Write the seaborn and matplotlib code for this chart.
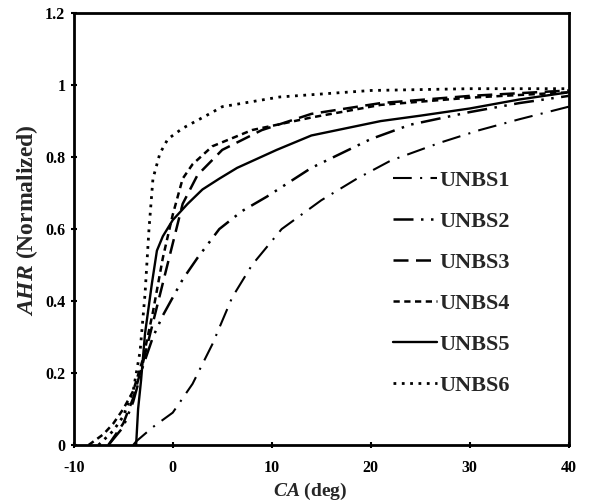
import matplotlib
matplotlib.use("Agg")
import matplotlib.pyplot as plt
import seaborn as sns
import pandas as pd

# values
ca1 = [-4, -3.7, -2, 0, 2, 4, 6, 8, 11, 15, 18.6, 22, 27, 31, 35, 40]
ahr1 = [0, 0.01, 0.05, 0.09, 0.17, 0.28, 0.41, 0.5, 0.6, 0.68, 0.74, 0.79, 0.84, 0.875, 0.905, 0.94]

ca2 = [-6.5, -5, -4, -3, -2, -1, 0, 1, 2.5, 4.7, 7, 9.5, 14, 20, 24, 30, 35, 40]
ahr2 = [0, 0.05, 0.12, 0.22, 0.3, 0.36, 0.41, 0.46, 0.52, 0.6, 0.65, 0.69, 0.77, 0.85, 0.89, 0.925, 0.95, 0.97]

ca3 = [-6.5, -5, -4, -3, -2, -1, 0, 1, 2.5, 5, 9, 14, 21, 30, 40]
ahr3 = [0, 0.06, 0.13, 0.23, 0.34, 0.45, 0.56, 0.67, 0.75, 0.82, 0.875, 0.92, 0.95, 0.97, 0.985]

ca4 = [-8.5, -7, -6, -5, -4, -3, -2, -1, 0, 1, 2, 4, 8, 14, 21, 30, 40]
ahr4 = [0, 0.03, 0.06, 0.1, 0.15, 0.24, 0.37, 0.52, 0.64, 0.74, 0.78, 0.83, 0.875, 0.91, 0.945, 0.965, 0.98]

ca5 = [-3.7, -3.5, -3.2, -2.8, -2.1, -1.6, -1, 0, 1.5, 3, 4.7, 6.5, 10.5, 14, 21, 25, 30, 35, 40]
ahr5 = [0, 0.1, 0.18, 0.31, 0.45, 0.54, 0.58, 0.625, 0.67, 0.71, 0.74, 0.77, 0.82, 0.86, 0.9, 0.915, 0.935, 0.96, 0.98]

ca6 = [-7.5, -6, -5, -4, -3.3, -2.8, -2.4, -2, -1.3, -0.5, 1, 3.7, 5, 10.8, 20, 30, 40]
ahr6 = [0, 0.04, 0.08, 0.15, 0.26, 0.42, 0.6, 0.74, 0.81, 0.85, 0.88, 0.92, 0.94, 0.967, 0.985, 0.99, 0.99]

names = ["UNBS1", "UNBS2", "UNBS3", "UNBS4", "UNBS5", "UNBS6"]
xs = [ca1, ca2, ca3, ca4, ca5, ca6]
ys = [ahr1, ahr2, ahr3, ahr4, ahr5, ahr6]

styles = {
    "UNBS1": dict(linestyle=(0, (9, 4, 1, 4)), lw=1.5),
    "UNBS2": dict(linestyle=(0, (8, 3, 1, 3, 1, 3)), lw=1.8),
    "UNBS3": dict(linestyle=(0, (6, 3)), lw=1.8),
    "UNBS4": dict(linestyle=(0, (2.5, 1.8)), lw=1.8),
    "UNBS5": dict(linestyle="-", lw=1.7),
    "UNBS6": dict(linestyle=(0, (1, 2)), lw=2.0),
}

sns.set_style("white")
plt.rcParams["font.family"] = ["Liberation Serif", "DejaVu Serif"]
plt.rcParams["font.weight"] = "bold"
plt.rcParams["axes.unicode_minus"] = False
plt.rcParams["mathtext.fontset"] = "custom"
plt.rcParams["mathtext.it"] = "Liberation Serif:italic:bold"
plt.rcParams["mathtext.rm"] = "Liberation Serif:bold"

fig = plt.figure(figsize=(5.9, 5.04), dpi=100)
ax = fig.add_axes([0.125, 0.117, 0.839, 0.857])

for n, x, y in zip(names, xs, ys):
    df = pd.DataFrame({"CA": x, "AHR": y})
    sns.lineplot(data=df, x="CA", y="AHR", ax=ax, color="black", label=n,
                 **styles[n])

ax.set_xlim(-10, 40)
ax.set_ylim(0, 1.2)
ax.set_xticks([-10, 0, 10, 20, 30, 40])
ax.set_yticks([0, 0.2, 0.4, 0.6, 0.8, 1.0, 1.2])
ax.set_yticklabels(["0", "0.2", "0.4", "0.6", "0.8", "1", "1.2"])
ax.tick_params(axis="both", direction="inout", length=5, width=1.5,
               labelsize=11.5, colors="black", bottom=True, left=True)
ax.tick_params(axis="x", pad=8)
for lab in ax.get_xticklabels() + ax.get_yticklabels():
    lab.set_fontweight("bold")
for sp in ax.spines.values():
    sp.set_color("black")
    sp.set_linewidth(2)

ax.set_xlabel(r"$\it{CA}$ (deg)", fontsize=14, fontweight="bold")
ax.xaxis.set_label_coords(0.477, -0.083)
ax.set_ylabel(r"$\it{AHR}$ (Normalized)", fontsize=17, fontweight="bold")
ax.yaxis.set_label_coords(-0.068, 0.52)

leg = ax.legend(loc="upper left", bbox_to_anchor=(373 / 590, 1 - 150 / 504),
                bbox_transform=fig.transFigure, frameon=False,
                prop={"size": 16, "weight": "bold"}, handlelength=2.0,
                handletextpad=0.1, labelspacing=0.92)

fig.savefig("out.png", dpi=100)
